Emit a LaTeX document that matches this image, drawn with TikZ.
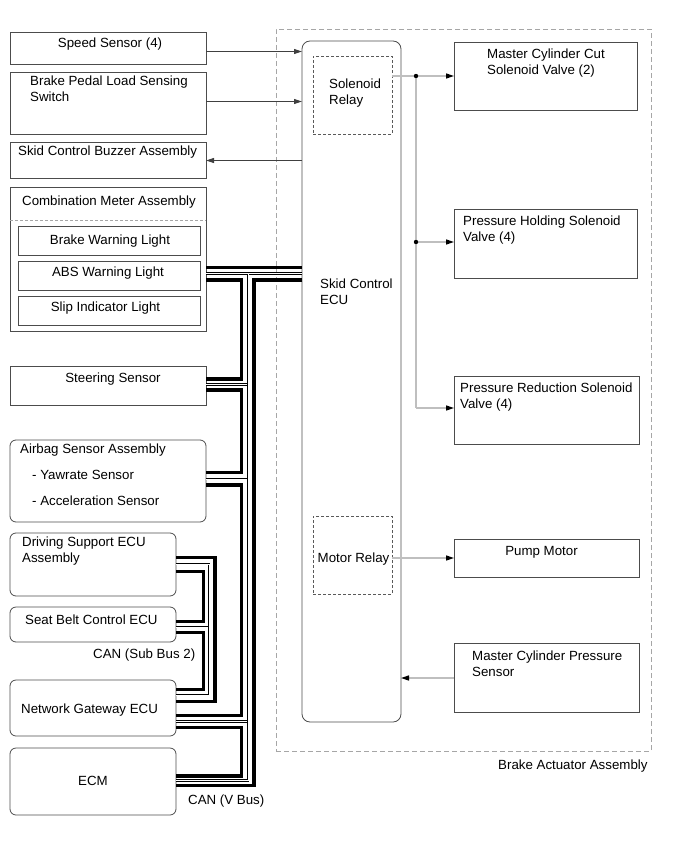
\documentclass[tikz,border=0pt]{standalone}
\usepackage{fontspec}
\setmainfont{Liberation Sans}
\usetikzlibrary{arrows.meta,fit}
\begin{document}
\begin{tikzpicture}[x=1pt,y=-1pt,
  box/.style={draw=black!70, line width=0.8pt, inner sep=0pt, outer sep=0pt},
  rbox/.style={box, rounded corners=6pt},
  dbox/.style={draw=black!65, dash pattern=on 3pt off 2pt, line width=0.7pt, inner sep=0pt, outer sep=0pt},
  obox/.style={draw=black!35, dash pattern=on 5pt off 3pt, line width=0.9pt, inner sep=0pt, outer sep=0pt},
  txt/.style={inner sep=0pt, font=\fontsize{13.3}{16}\selectfont, anchor=base west},
  ctxt/.style={txt, anchor=base},
  larr/.style={draw=black!75, line width=0.8pt, -{Triangle[length=8pt,width=5pt]}},
  garr/.style={draw=black!25, line width=1.4pt, -{Triangle[length=8pt,width=5pt,color=black]}},
  busk/.style={draw=black, line width=3.3pt, line join=miter},
  busthin/.style={draw=black, line width=0.9pt, double=white, double distance=1.0pt, line join=miter},
]
\useasboundingbox (0,0) rectangle (690,853);

% ---------- left column ----------
\node[box, fit={(10,32) (206,64)}] (spd) {};
\node[ctxt] (tspd) at (110,47.7) {Speed Sensor (4)};
\node[box, fit={(10,72) (206,134)}] (bpl) {};
\node[txt] (tbpl1) at (30,85.7) {Brake Pedal Load Sensing};
\node[txt] (tbpl2) at (30,101.7) {Switch};
\node[box, fit={(10,142) (206,178)}] (buz) {};
\node[txt] (tbuz) at (18,156) {Skid Control Buzzer Assembly};

\node[box, fit={(10,187) (206,331)}] (meter) {};
\node[ctxt] (tmeter) at (109,205.5) {Combination Meter Assembly};
\draw[draw=black!35, dash pattern=on 3pt off 2pt, line width=0.7pt] (meter.west |- 0,220) -- (meter.east |- 0,220);
\node[box, fit={(18,226) (200,255)}] (bwl) {};
\node[ctxt] (tbwl) at (110,244.3) {Brake Warning Light};
\node[box, fit={(18,261) (200,290)}] (abs) {};
\node[ctxt] (tabs) at (108,276) {ABS Warning Light};
\node[box, fit={(18,296) (200,325)}] (slip) {};
\node[ctxt] (tslip) at (105.5,311) {Slip Indicator Light};

\node[box, fit={(10,366) (206,405)}] (str) {};
\node[ctxt] (tstr) at (113,382) {Steering Sensor};

\node[rbox, fit={(10,440) (206,522)}] (air) {};
\node[txt] (tair1) at (20,453) {Airbag Sensor Assembly};
\node[txt] (tair2) at (32,479) {- Yawrate Sensor};
\node[txt] (tair3) at (32,505) {- Acceleration Sensor};

\node[rbox, fit={(10,533) (176,596)}] (dse) {};
\node[txt] (tdse1) at (22,546) {Driving Support ECU};
\node[txt] (tdse2) at (22,562) {Assembly};
\node[rbox, fit={(10,607) (176,642)}] (sbe) {};
\node[txt] (tsbe) at (25,624) {Seat Belt Control ECU};
\node[txt] (tsub) at (93,658) {CAN (Sub Bus 2)};
\node[rbox, fit={(10,680) (176,736)}] (gw) {};
\node[txt] (tgw) at (21,713) {Network Gateway ECU};
\node[rbox, fit={(10,748) (176,815)}] (ecm) {};
\node[ctxt] (tecm) at (93,785) {ECM};
\node[txt] (tvbus) at (188,804.3) {CAN (V Bus)};

% ---------- brake actuator ----------
\node[obox, fit={(276,29) (651,751)}] (act) {};
\node[txt] (tact) at (498,769.3) {Brake Actuator Assembly};
\node[box, rounded corners=8pt, fit={(302,41) (401,722)}] (ecu) {};
\node[txt] (tecu1) at (320,288) {Skid Control};
\node[txt] (tecu2) at (320,304) {ECU};
\node[dbox, fit={(313,56) (392,134)}] (sol) {};
\node[txt] (tsol1) at (329,88.3) {Solenoid};
\node[txt] (tsol2) at (329,104.3) {Relay};
\node[dbox, fit={(313,516) (392,594)}] (mr) {};
\node[txt] (tmr) at (317.5,562.3) {Motor Relay};

\node[box, fit={(454,42) (637,110)}] (mcc) {};
\node[txt] (tmcc1) at (487,58.3) {Master Cylinder Cut};
\node[txt] (tmcc2) at (487,74.3) {Solenoid Valve (2)};
\node[box, fit={(454,209) (637,278)}] (phs) {};
\node[txt] (tphs1) at (463,225) {Pressure Holding Solenoid};
\node[txt] (tphs2) at (463,241) {Valve (4)};
\node[box, fit={(454,376) (639,444)}] (prs) {};
\node[txt] (tprs1) at (460,392.3) {Pressure Reduction Solenoid};
\node[txt] (tprs2) at (460,408.3) {Valve (4)};
\node[box, fit={(454,539) (639,577)}] (pump) {};
\node[ctxt] (tpump) at (541.5,555.7) {Pump Motor};
\node[box, fit={(454,643) (639,712)}] (mcps) {};
\node[txt] (tmcps1) at (472,660.7) {Master Cylinder Pressure};
\node[txt] (tmcps2) at (472,676.7) {Sensor};

% ---------- signal connectors ----------
\draw[larr] (spd.east |- 0,51.5) -- (ecu.west |- 0,51.5);
\draw[larr] (bpl.east |- 0,101.5) -- (ecu.west |- 0,101.5);
\draw[larr] (ecu.west |- 0,160.5) -- (buz.east |- 0,160.5);

\coordinate (j1) at (416,76);
\coordinate (j2) at (416,242);
\coordinate (j3) at (416,408);
\draw[draw=black!25, line width=1.4pt] (sol.east |- j1) -- (j1);
\draw[draw=black!25, line width=1.4pt] (j1) -- (j3);
\draw[garr] (j1) -- (mcc.west |- j1);
\draw[garr] (j2) -- (phs.west |- j2);
\draw[garr] (j3) -- (prs.west |- j3);
\fill[black] (j1) circle (2.2pt);
\fill[black] (j2) circle (2.2pt);
\draw[garr] (mr.east |- 0,558) -- (pump.west |- 0,558);
\draw[garr] (mcps.west |- 0,678) -- (ecu.east |- 0,678);

% ---------- CAN V bus ----------
% thin pair
\draw[busthin] (str.east |- 0,384.5) -- (248,384.5);
\draw[busthin] (air.east |- 0,479) -- (248,479);
\draw[busthin] (gw.east |- 0,721.5) -- (248,721.5);
\draw[busthin] (meter.east |- 0,273.5) -- (ecu.west |- 0,273.5);
\draw[busthin] (248,273.5) -- (248,780.5) -- (ecm.east |- 0,780.5);
% thick wires
\draw[busk] (meter.east |- 0,267.5) -- (ecu.west |- 0,267.5);
\draw[busk] (meter.east |- 0,280) -- (241.5,280) -- (241.5,379) -- (str.east |- 0,379);
\draw[busk] (str.east |- 0,390) -- (241.5,390) -- (241.5,472.5) -- (air.east |- 0,472.5);
\draw[busk] (air.east |- 0,485) -- (241.5,485) -- (241.5,715.5) -- (gw.east |- 0,715.5);
\draw[busk] (gw.east |- 0,727.5) -- (241.5,727.5) -- (241.5,776) -- (ecm.east |- 0,776);
\draw[busk] (ecu.west |- 0,280) -- (254,280) -- (254,785.5) -- (ecm.east |- 0,785.5);

% ---------- CAN sub bus 2 ----------
\draw[busthin] (sbe.east |- 0,627) -- (209,627);
\draw[busthin] (dse.east |- 0,564) -- (209,564) -- (209,695) -- (gw.east |- 0,695);
\draw[busk] (dse.east |- 0,557.5) -- (215,557.5) -- (215,701.5) -- (gw.east |- 0,701.5);
\draw[busk] (dse.east |- 0,571.5) -- (203.5,571.5) -- (203.5,621.5) -- (sbe.east |- 0,621.5);
\draw[busk] (sbe.east |- 0,632.5) -- (203.5,632.5) -- (203.5,689.5) -- (gw.east |- 0,689.5);
\end{tikzpicture}
\end{document}
